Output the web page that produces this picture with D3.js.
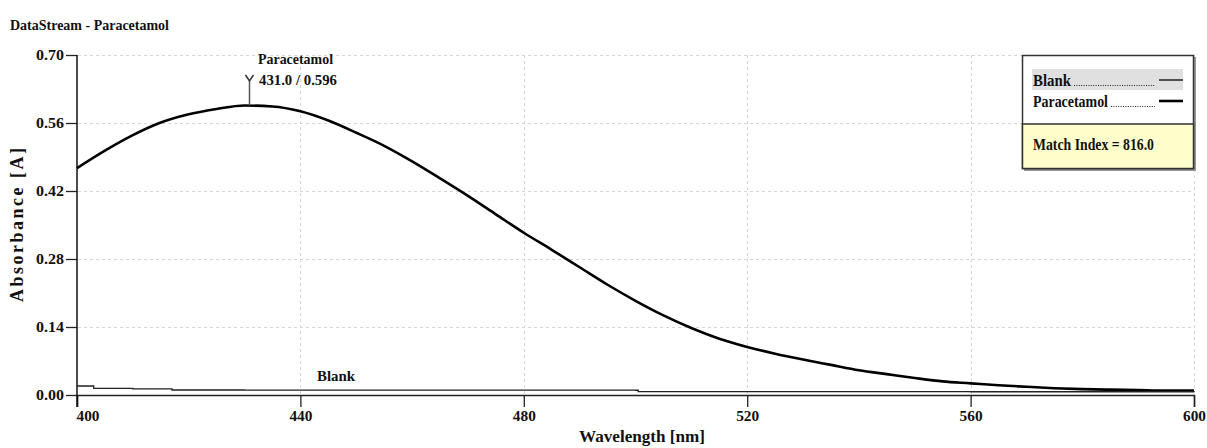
<!DOCTYPE html>
<html>
<head>
<meta charset="utf-8">
<script src="https://cdn.jsdelivr.net/npm/d3@7"></script>
<style>
  html, body { margin: 0; padding: 0; background: #fff; }
  svg { display: block; }
  text { font-family: "Liberation Serif", "Times New Roman", serif; font-weight: bold; fill: #111; }
</style>
</head>
<body>
<svg id="chart" width="1207" height="448"></svg>
<script>
// ---- data ----
const wavelengths = [400,405,410,415,420,425,430,435,440,445,450,455,460,465,470,475,480,485,490,495,500,505,510,515,520,525,530,535,540,545,550,555,560,565,570,575,580,585,590,595,600];
const paracetamol = [0.467,0.503,0.535,0.561,0.578,0.589,0.596,0.594,0.584,0.565,0.540,0.513,0.481,0.446,0.410,0.372,0.334,0.299,0.263,0.227,0.194,0.164,0.138,0.116,0.099,0.085,0.073,0.062,0.051,0.043,0.035,0.028,0.024,0.020,0.017,0.014,0.012,0.011,0.010,0.009,0.009];
const blankWavelengths = [400,402.5,403,410,417,430,450,480,500,500.5,530,560,600];
const blank = [0.0185,0.0185,0.0138,0.0128,0.0103,0.0102,0.0100,0.0099,0.0098,0.0069,0.0068,0.0067,0.0062];
const xTicks = [400,440,480,520,560,600];
const yTicks = [0.00,0.14,0.28,0.42,0.56,0.70];
const yTickLabels = ["0.00","0.14","0.28","0.42","0.56","0.70"];
const peak = {nm: 431.0, a: 0.596, label: "Paracetamol", value: "431.0 / 0.596"};
const seriesNames = ["Blank","Paracetamol"];
const matchIndex = "Match Index = 816.0";

// ---- layout ----
const svg = d3.select("#chart");
const x = d3.scaleLinear().domain([400,600]).range([77,1194]);
const y = d3.scaleLinear().domain([0,0.70]).range([395,55]);

// title
svg.append("text").attr("x",10).attr("y",30).attr("font-size",15)
  .attr("textLength",159).attr("lengthAdjust","spacingAndGlyphs").text("DataStream - Paracetamol");

// grid
const grid = svg.append("g");
grid.selectAll("line.h").data(yTicks.filter(d=>d>0)).join("line")
  .attr("x1",78).attr("x2",1194).attr("y1",d=>Math.round(y(d))+0.5).attr("y2",d=>Math.round(y(d))+0.5)
  .attr("stroke","#d6d6d6").attr("stroke-dasharray","3,3");
grid.selectAll("line.v").data(xTicks.filter(d=>d>400)).join("line")
  .attr("x1",d=>Math.round(x(d))+0.5).attr("x2",d=>Math.round(x(d))+0.5).attr("y1",55).attr("y2",394)
  .attr("stroke","#d6d6d6").attr("stroke-dasharray","3,3");

// axes
const xAxis = d3.axisBottom(x).tickValues(xTicks).tickSize(12).tickPadding(3).tickFormat(d3.format("d"));
const gx = svg.append("g").attr("transform","translate(0,395)").call(xAxis);
gx.select(".domain").attr("stroke","#222").attr("stroke-width",1.5);
gx.selectAll(".tick line").attr("stroke","#222").attr("stroke-width",1.3);
gx.selectAll(".tick text").attr("font-size",15).attr("font-family","Liberation Serif").attr("font-weight","bold").attr("fill","#111")
  .attr("textLength",23).attr("lengthAdjust","spacingAndGlyphs");
gx.selectAll(".tick text").filter(d=>d===400).attr("text-anchor","start").attr("dx",-1);

const yAxis = d3.axisLeft(y).tickValues(yTicks).tickSize(11).tickPadding(2).tickFormat((d,i)=>yTickLabels[i]);
const gy = svg.append("g").attr("transform","translate(77,0)").call(yAxis);
gy.select(".domain").remove();
gy.selectAll(".tick line").attr("stroke","#222").attr("stroke-width",1.3);
gy.selectAll(".tick text").attr("font-size",15).attr("font-family","Liberation Serif").attr("font-weight","bold").attr("fill","#111")
  .attr("textLength",28).attr("lengthAdjust","spacingAndGlyphs");
svg.append("line").attr("x1",77).attr("x2",77).attr("y1",55).attr("y2",407).attr("stroke","#111").attr("stroke-width",1.5);

// axis titles
svg.append("text").attr("x",642).attr("y",442).attr("text-anchor","middle").attr("font-size",17)
  .attr("textLength",126).attr("lengthAdjust","spacingAndGlyphs").text("Wavelength [nm]");
svg.append("text").attr("transform","translate(23,225) rotate(-90)").attr("text-anchor","middle").attr("font-size",18)
  .attr("textLength",154).attr("lengthAdjust","spacing").text("Absorbance [A]");

// series
const lineP = d3.line().x((d,i)=>x(wavelengths[i])).y(d=>y(d)).curve(d3.curveMonotoneX);
svg.append("path").datum(paracetamol).attr("d",lineP).attr("fill","none").attr("stroke","#000").attr("stroke-width",2.6);
const lineB = d3.line().x((d,i)=>x(blankWavelengths[i])).y(d=>y(d)).curve(d3.curveStepAfter);
svg.append("path").datum(blank).attr("d",lineB).attr("fill","none").attr("stroke","#222").attr("stroke-width",1.3);

// peak annotation
const px = Math.round(x(peak.nm))-0.5, py = y(peak.a);
svg.append("line").attr("x1",px).attr("x2",px).attr("y1",81).attr("y2",py).attr("stroke","#555").attr("stroke-width",1.5);
svg.append("path").attr("d",`M${px-4},75 L${px},81 L${px+4},75`).attr("fill","none").attr("stroke","#333").attr("stroke-width",1.5);
svg.append("text").attr("x",258).attr("y",64).attr("font-size",15)
  .attr("textLength",75).attr("lengthAdjust","spacingAndGlyphs").text(peak.label);
svg.append("text").attr("x",259).attr("y",85).attr("font-size",15)
  .attr("textLength",78).attr("lengthAdjust","spacingAndGlyphs").text(peak.value);
svg.append("text").attr("x",317).attr("y",381).attr("font-size",15)
  .attr("textLength",38).attr("lengthAdjust","spacingAndGlyphs").text(seriesNames[0]);

// legend
const lg = svg.append("g");
lg.append("rect").attr("x",1024).attr("y",57).attr("width",172).attr("height",114).attr("fill","#999");
lg.append("rect").attr("x",1022.5).attr("y",55.5).attr("width",171).attr("height",113).attr("fill","#fff").attr("stroke","#333").attr("stroke-width",1.5);
lg.append("rect").attr("x",1022.5).attr("y",124).attr("width",171).attr("height",44.5).attr("fill","#ffffcc").attr("stroke","#333").attr("stroke-width",1.5);
lg.append("rect").attr("x",1032).attr("y",69).attr("width",151).attr("height",21).attr("fill","#e0e0e0");
const rows = [{name:seriesNames[0], w:38, base:86, lw:1.3},{name:seriesNames[1], w:75, base:107, lw:2.6}];
rows.forEach(r=>{
  lg.append("text").attr("x",1033).attr("y",r.base).attr("font-size",16)
    .attr("textLength",r.w).attr("lengthAdjust","spacingAndGlyphs").text(r.name);
  lg.append("line").attr("x1",1033+r.w+3).attr("x2",1155).attr("y1",r.base-0.5).attr("y2",r.base-0.5)
    .attr("stroke","#222").attr("stroke-width",1.2).attr("stroke-dasharray","1,1.4");
  lg.append("line").attr("x1",1159).attr("x2",1183).attr("y1",r.base-6).attr("y2",r.base-6)
    .attr("stroke","#000").attr("stroke-width",r.lw);
});
lg.append("text").attr("x",1033).attr("y",150).attr("font-size",16)
  .attr("textLength",121).attr("lengthAdjust","spacingAndGlyphs").text(matchIndex);
</script>
</body>
</html>
